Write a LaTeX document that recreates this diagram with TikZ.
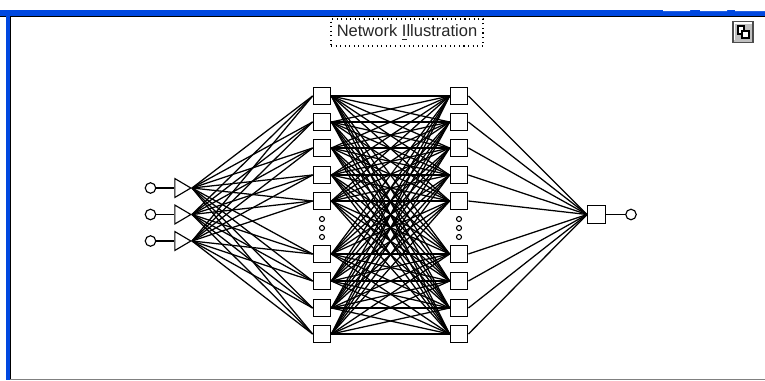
\documentclass[tikz,border=0pt]{standalone}
\usepackage{fontspec}
\setmainfont{Liberation Sans}
\usetikzlibrary{positioning}
\usetikzlibrary{shapes.geometric}
\definecolor{barblue}{RGB}{0,72,224}
\definecolor{btngray}{RGB}{192,192,192}
\tikzset{
  unit/.style={rectangle,draw=black,fill=white,line width=0.75pt,minimum size=0.35cm,inner sep=0pt},
  port/.style={circle,draw=black,fill=white,line width=0.65pt,minimum size=0.21cm,inner sep=0pt},
  amp/.style={isosceles triangle,isosceles triangle apex angle=61,draw=black,fill=white,line width=0.65pt,minimum height=0.32cm,inner sep=0pt,anchor=apex},
  elide/.style={circle,draw=black,line width=0.6pt,minimum size=0.1cm,inner sep=0pt},
  wire/.style={black,line width=0.72pt}
}
\begin{document}
\begin{tikzpicture}[x=0.02cm,y=-0.02cm]
\useasboundingbox (0,0) rectangle (765,380);
% window frame
\fill[barblue] (0,10) rectangle (765,16);
\draw[black,line width=0.6pt] (0,16.5) -- (765,16.5);
\fill[barblue] (6,16) rectangle (10,380);
\draw[black,line width=0.6pt] (10.5,16) -- (10.5,380);
\draw[gray,line width=0.6pt] (10,379.3) -- (765,379.3);
\fill[white] (663,10) rectangle (690,11) (700,10) rectangle (727,11) (735,10) rectangle (765,11);
% title and button
\node[draw=black,dotted,line width=0.6pt,minimum width=3.04cm,minimum height=0.54cm,inner sep=0pt,font=\fontsize{9.4}{10}\selectfont,text=black!85] (title) at (407,32.5) {\raisebox{-1pt}{Network \underline{I}llustration}};
\node[rectangle,draw=black!70,fill=btngray,line width=0.8pt,minimum width=0.4cm,minimum height=0.42cm,inner sep=0pt] (copybtn) at (743,32) {};
\draw[white,line width=0.6pt] (734.5,40) -- (734.5,23) -- (752,23);
\draw[fill=white,line width=0.75pt] (738,26) rectangle (744,34);
\draw[fill=white,line width=0.75pt] (742,31) rectangle (749,38);
% units
\foreach \n/\y in {1/188,2/214.5,3/241}{
  \node[port] (in\n) at (150.5,\y) {};
  \node[amp] (amp\n) at (192,\y) {};
  \draw[wire] (in\n) -- (amp\n.west);
}
\foreach \n/\y in {1/96,2/122,3/148,4/175,5/201,6/254,7/281,8/308,9/334}{
  \node[unit] (a\n) at (322,\y) {};
  \node[unit] (b\n) at (459,\y) {};
}
\node[unit] (sum) at (596.5,214.5) {};
\node[port] (out) at (631,214.5) {};
\draw[wire] (sum) -- (out);
\foreach \y in {219,228,237}{
  \node[elide] at (322,\y) {};
  \node[elide] at (459,\y) {};
}
% connections
\foreach \i in {1,...,9}{
  \foreach \k in {1,2,3}{
    \draw[wire] (amp\k.apex) -- (a\i.west);
  }
  \foreach \j in {1,...,9}{
    \draw[wire] (a\i.east) -- (b\j.west);
  }
  \draw[wire] (b\i.east) -- (sum.west);
}
\end{tikzpicture}
\end{document}
